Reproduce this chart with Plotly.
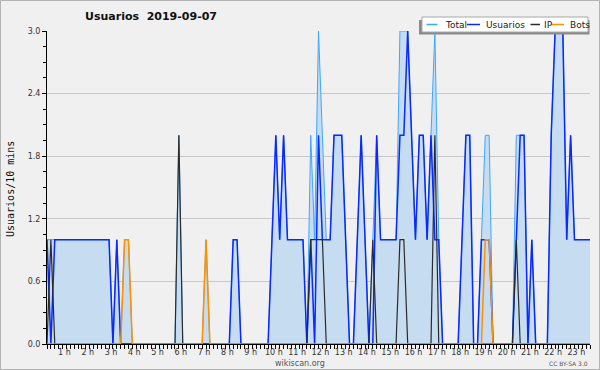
import plotly.graph_objects as go

# ---- data: one value per 10 minutes, starting 00:15 ----
START_H = 0.25
STEP_H = 1 / 6

usuarios = [1, 0, 1, 1, 1, 1,  1, 1, 1, 1, 1, 1,  1, 1, 1, 1, 1, 0,  1, 0, 0, 0, 0, 0,
            0, 0, 0, 0, 0, 0,  0, 0, 0, 0, 0, 0,  0, 0, 0, 0, 0, 0,  0, 0, 0, 0, 0, 0,
            1, 1, 0, 0, 0, 0,  0, 0, 0, 0, 1, 2,  1, 2, 1, 1, 1, 1,  1, 0, 1, 0, 2, 1,
            1, 1, 2, 2, 2, 1,  0, 0, 1, 2, 1, 0,  0, 2, 1, 1, 1, 1,  1, 2, 2, 3, 2, 1,
            2, 2, 1, 2, 1, 1,  0, 0, 0, 0, 0, 1,  2, 2, 0, 0, 1, 1,  1, 0, 0, 0, 0, 0,
            0, 1, 2, 2, 0, 1,  0, 0, 0, 0, 2, 3,  3, 3, 1, 2, 1, 1,  1, 1, 1]
ip = [0, 1, 0, 0, 0, 0,  0, 0, 0, 0, 0, 0,  0, 0, 0, 0, 0, 0,  0, 0, 0, 0, 0, 0,
      0, 0, 0, 0, 0, 0,  0, 0, 0, 0, 2, 0,  0, 0, 0, 0, 0, 0,  0, 0, 0, 0, 0, 0,
      0, 0, 0, 0, 0, 0,  0, 0, 0, 0, 0, 0,  0, 0, 0, 0, 0, 0,  0, 0, 1, 1, 1, 1,
      0, 0, 0, 0, 0, 0,  0, 0, 0, 0, 0, 0,  1, 0, 0, 0, 0, 0,  0, 1, 1, 0, 0, 0,
      0, 0, 0, 0, 2, 0,  0, 0, 0, 0, 0, 0,  0, 0, 0, 0, 0, 0,  0, 0, 0, 0, 0, 0,
      0, 1, 0, 0, 0, 0,  0, 0, 0, 0, 0, 0,  0, 0, 0, 0, 0, 0,  0, 0, 0]
bots = [0, 0, 0, 0, 0, 0,  0, 0, 0, 0, 0, 0,  0, 0, 0, 0, 0, 0,  0, 0, 1, 1, 0, 0,
        0, 0, 0, 0, 0, 0,  0, 0, 0, 0, 0, 0,  0, 0, 0, 0, 0, 1,  0, 0, 0, 0, 0, 0,
        0, 0, 0, 0, 0, 0,  0, 0, 0, 0, 0, 0,  0, 0, 0, 0, 0, 0,  0, 0, 0, 0, 0, 0,
        0, 0, 0, 0, 0, 0,  0, 0, 0, 0, 0, 0,  0, 0, 0, 0, 0, 0,  0, 0, 0, 0, 0, 0,
        0, 0, 0, 0, 0, 0,  0, 0, 0, 0, 0, 0,  0, 0, 0, 0, 0, 1,  1, 0, 0, 0, 0, 0,
        0, 0, 0, 0, 0, 0,  0, 0, 0, 0, 0, 0,  0, 0, 0, 0, 0, 0,  0, 0, 0]
total = [1, 1, 1, 1, 1, 1,  1, 1, 1, 1, 1, 1,  1, 1, 1, 1, 1, 0,  1, 0, 1, 1, 0, 0,
         0, 0, 0, 0, 0, 0,  0, 0, 0, 0, 2, 0,  0, 0, 0, 0, 0, 1,  0, 0, 0, 0, 0, 0,
         1, 1, 0, 0, 0, 0,  0, 0, 0, 0, 1, 2,  1, 2, 1, 1, 1, 1,  1, 0, 2, 1, 3, 2,
         1, 1, 2, 2, 2, 1,  0, 0, 1, 2, 1, 0,  1, 2, 1, 1, 1, 1,  1, 3, 3, 3, 2, 1,
         2, 2, 1, 2, 3, 1,  0, 0, 0, 0, 0, 1,  2, 2, 0, 0, 1, 2,  2, 0, 0, 0, 0, 0,
         0, 2, 2, 2, 0, 1,  0, 0, 0, 0, 2, 3,  3, 3, 1, 2, 1, 1,  1, 1, 1]

hour_ticks = list(range(1, 24))
hour_labels = [f"{h} h" for h in hour_ticks]
y_ticks = [0, 0.6, 1.2, 1.8, 2.4, 3.0]
y_labels = ["0.0", "0.6", "1.2", "1.8", "2.4", "3.0"]

series_names = ["Total", "Usuarios", "IP", "Bots"]
series_colors = ["#3fa6ff", "#0a28ff", "#2b2b2b", "#ff9000"]

x = [START_H + i * STEP_H for i in range(len(total))]

# ---- figure ----
W, H = 600, 370
ML, MR, MT, MB = 47, 10, 31, 26
PW, PH = W - ML - MR, H - MT - MB


def fx(px):
    return (px - ML) / PW


def fy(py):
    return (H - MB - py) / PH


fig = go.Figure()
fig.add_trace(go.Scatter(x=x, y=total, name="Total", mode="lines",
                         line=dict(color=series_colors[0], width=1),
                         fill="tozeroy", fillcolor="#c6dcf0"))
fig.add_trace(go.Scatter(x=x, y=usuarios, name="Usuarios", mode="lines",
                         line=dict(color=series_colors[1], width=1.5)))
fig.add_trace(go.Scatter(x=x, y=ip, name="IP", mode="lines",
                         line=dict(color=series_colors[2], width=1.2)))
fig.add_trace(go.Scatter(x=x, y=bots, name="Bots", mode="lines",
                         line=dict(color=series_colors[3], width=1.5)))

shapes = []
# outer frame
shapes.append(dict(type="rect", xref="paper", yref="paper",
                   x0=fx(0.5), x1=fx(599.5), y0=fy(369.5), y1=fy(0.5),
                   line=dict(color="#b4b4b4", width=1), layer="above"))
# legend shadow and box
shapes.append(dict(type="rect", xref="paper", yref="paper",
                   x0=fx(419), x1=fx(589.5), y0=fy(34.5), y1=fy(20),
                   fillcolor="#8a8a8a", line=dict(width=0), layer="above"))
shapes.append(dict(type="rect", xref="paper", yref="paper",
                   x0=fx(422), x1=fx(588), y0=fy(32), y1=fy(17),
                   fillcolor="#ffffff", line=dict(color="#a8a8a8", width=1),
                   layer="above"))

annotations = []
leg_line_px = [(426.5, 437.5), (467, 480), (530.5, 540), (551.5, 564)]
leg_text_px = [442.5, 484, 542, 568]
for name, col, (a, b), t in zip(series_names, series_colors, leg_line_px, leg_text_px):
    shapes.append(dict(type="line", xref="paper", yref="paper",
                       x0=fx(a), x1=fx(b), y0=fy(24.5), y1=fy(24.5),
                       line=dict(color=col, width=1.5), layer="above"))
    annotations.append(dict(text=name, xref="paper", yref="paper",
                            x=fx(t), y=fy(24.5), xanchor="left", yanchor="middle",
                            showarrow=False,
                            font=dict(family="DejaVu Sans", size=9, color="#222")))

annotations.append(dict(text="Usuarios/10 mins", xref="paper", yref="paper",
                        x=fx(10), y=fy(189), textangle=-90, showarrow=False,
                        xanchor="center", yanchor="middle",
                        font=dict(family="DejaVu Sans Mono", size=10, color="#111")))
annotations.append(dict(text="wikiscan.org", xref="paper", yref="paper",
                        x=fx(300), y=fy(363), showarrow=False,
                        xanchor="center", yanchor="middle",
                        font=dict(family="DejaVu Sans", size=8, color="#555")))
annotations.append(dict(text="CC BY-SA 3.0", xref="paper", yref="paper",
                        x=fx(590), y=fy(363), showarrow=False,
                        xanchor="right", yanchor="middle",
                        font=dict(family="DejaVu Sans", size=6, color="#555")))

fig.update_layout(
    width=W, height=H,
    margin=dict(l=ML, r=MR, t=MT, b=MB),
    paper_bgcolor="#f0f0f0", plot_bgcolor="#f0f0f0",
    showlegend=False,
    title=dict(text="<b>Usuarios  2019-09-07</b>", x=151 / W, y=1 - 16 / H,
               xanchor="center", yanchor="middle",
               font=dict(family="DejaVu Sans", size=11, color="#111")),
    shapes=shapes, annotations=annotations,
    xaxis=dict(range=[x[0], x[-1]], tickvals=hour_ticks, ticktext=hour_labels,
               ticks="", ticklen=0,
               showline=True, linecolor="#000", linewidth=1,
               showgrid=False, zeroline=False,
               tickfont=dict(family="DejaVu Sans", size=8, color="#333"),
               minor=dict(dtick=STEP_H, tick0=START_H, ticks="outside", ticklen=4,
                          tickcolor="#000", showgrid=False)),
    yaxis=dict(range=[0, 3], tickvals=y_ticks, ticktext=y_labels,
               ticks="outside", ticklen=4, tickcolor="#000", tickwidth=1,
               showline=True, linecolor="#000", linewidth=1,
               showgrid=True, gridcolor="#c8c8c8", gridwidth=1, zeroline=False,
               tickfont=dict(family="DejaVu Sans", size=8, color="#333"),
               minor=dict(dtick=0.15, tick0=0, ticks="outside", ticklen=3,
                          tickcolor="#000", showgrid=False)),
)

fig.write_html("out.html",
               config={"displayModeBar": False},
               post_script="document.body.style.margin='0';"
                           "document.body.style.overflow='hidden';")
